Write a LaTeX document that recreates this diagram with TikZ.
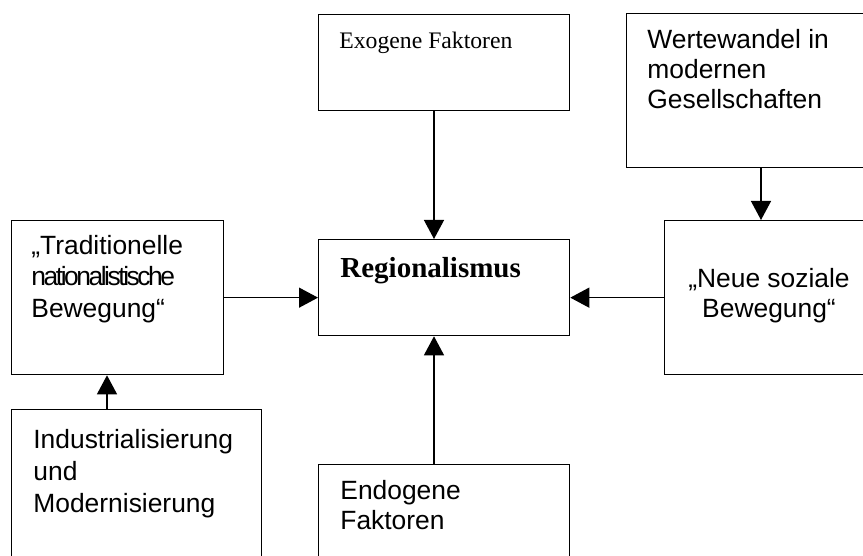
\documentclass[tikz,border=0pt]{standalone}
\usepackage{fontspec}
\setmainfont{Liberation Serif}
\setsansfont{Liberation Sans}
\usetikzlibrary{arrows.meta}

\tikzset{
  rahmen/.style={draw, line width=0.65pt, inner sep=0pt, anchor=north west},
  schrift/.style={inner sep=0pt, anchor=base west, align=left, font=\sffamily\fontsize{13.2}{15}\selectfont},
  pfeil/.style={line width=0.65pt, -{Triangle[length=9.5pt, width=10pt]}}
}

\begin{document}
\begin{tikzpicture}[x=0.5pt, y=-0.5pt]
    \useasboundingbox (0,0) rectangle (863,556);
    \clip (0,0) rectangle (863,556);

    % 枠を描く
    \node[rahmen, minimum width=125.5pt, minimum height=48pt] (exo) at (318,14) {};
    \node[rahmen, minimum width=130pt, minimum height=77pt] (wert) at (626,13) {};
    \node[rahmen, minimum width=106pt, minimum height=77pt] (trad) at (11,220) {};
    \node[rahmen, minimum width=125.5pt, minimum height=48pt] (reg) at (318,239) {};
    \node[rahmen, minimum width=110pt, minimum height=77pt] (neue) at (664,220) {};
    \node[rahmen, minimum width=125pt, minimum height=85pt] (indu) at (11,409) {};
    \node[rahmen, minimum width=125.5pt, minimum height=60pt] (endo) at (318,464) {};

    % 文字を入れる (Grundlinie der letzten Zeile)
    \node[schrift, font=\rmfamily\fontsize{11.85}{14}\selectfont] (exotext) at (339,49) {Exogene Faktoren};
    \node[schrift] (werttext) at (647,109) {Wertewandel in\\modernen\\Gesellschaften};
    \node[schrift, font=\sffamily\fontsize{13.2}{15.75}\selectfont] (tradtext) at (31,317)
      {„Traditionelle\\{\addfontfeature{LetterSpace=-9.3}nationalistische}\\Bewegung“};
    \node[schrift, font=\rmfamily\bfseries\fontsize{14.5}{17}\selectfont] (regtext) at (340,278) {Regionalismus};
    \node[schrift, anchor=base, align=center] (neuetext) at (769,317) {„Neue soziale\\Bewegung“};
    \node[schrift, font=\sffamily\fontsize{13.2}{16}\selectfont] (indutext) at (33,512)
      {Industrialisierung\\und\\Modernisierung};
    \node[schrift] (endotext) at (340,529) {Endogene\\Faktoren};

    % 矢印を引く
    \coordinate (mitte) at (434,0);
    \coordinate (rechts) at (761,0);
    \coordinate (links) at (107,0);
    \draw[pfeil] (exo.south -| mitte) -- (reg.north -| mitte);
    \draw[pfeil] (endo.north -| mitte) -- (reg.south -| mitte);
    \draw[pfeil] (trad.east) -- (trad.east -| reg.west);
    \draw[pfeil] (neue.west) -- (neue.west -| reg.east);
    \draw[pfeil] (wert.south -| rechts) -- (neue.north -| rechts);
    \draw[pfeil] (indu.north -| links) -- (trad.south -| links);

\end{tikzpicture}
\end{document}
